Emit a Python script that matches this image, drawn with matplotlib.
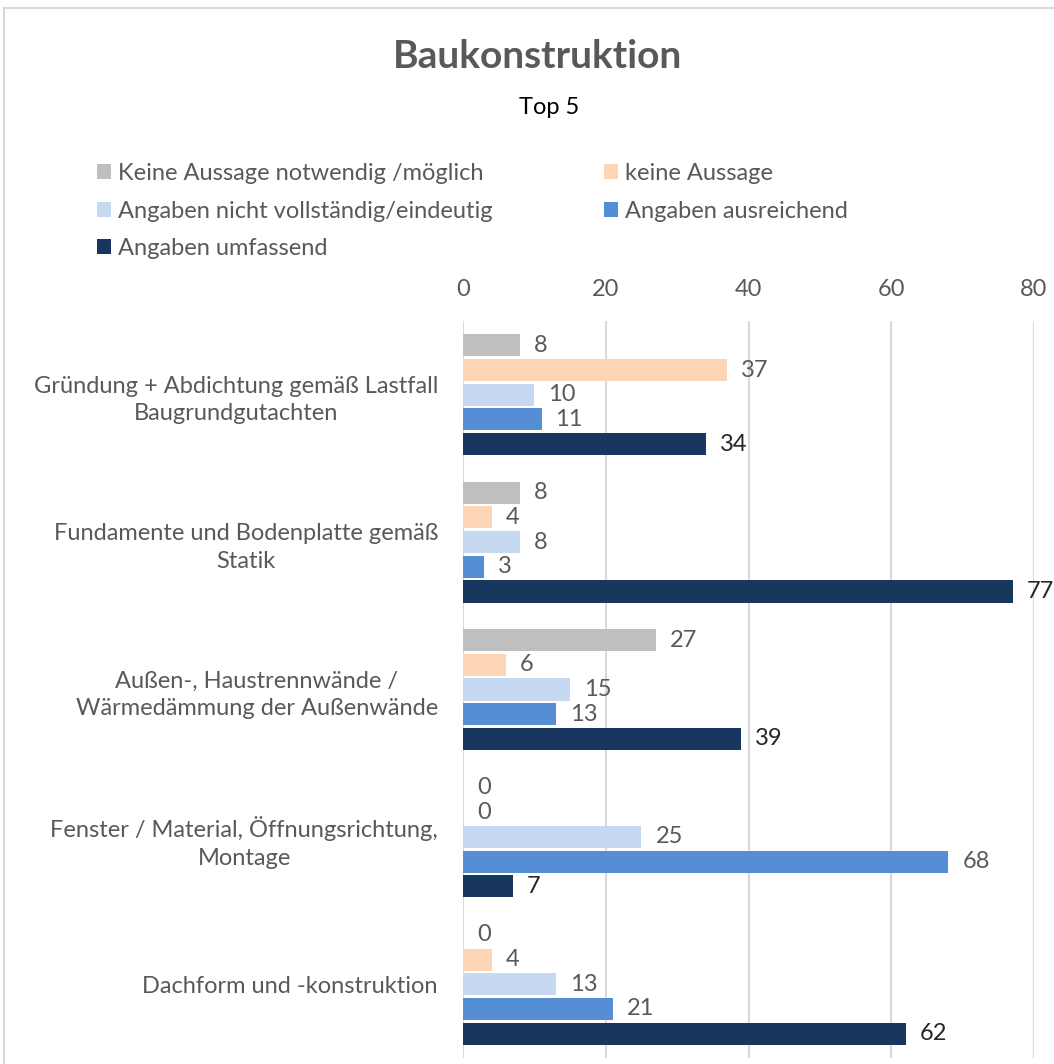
import matplotlib
matplotlib.use("Agg")
import matplotlib.pyplot as plt
from matplotlib.patches import Patch
from matplotlib.lines import Line2D
import numpy as np

plt.rcParams['font.family'] = ['Lato', 'DejaVu Sans']

categories = [
    "Gründung + Abdichtung gemäß Lastfall\nBaugrundgutachten",
    "Fundamente und Bodenplatte gemäß\nStatik",
    "Außen-, Haustrennwände /\nWärmedämmung der Außenwände",
    "Fenster / Material, Öffnungsrichtung,\nMontage",
    "Dachform und -konstruktion",
]
series_names = [
    "Keine Aussage notwendig /möglich",
    "keine Aussage",
    "Angaben nicht vollständig/eindeutig",
    "Angaben ausreichend",
    "Angaben umfassend",
]
keine_notwendig = [8, 8, 27, 0, 0]
keine_aussage = [37, 4, 6, 0, 4]
nicht_vollstaendig = [10, 8, 15, 25, 13]
ausreichend = [11, 3, 13, 68, 21]
umfassend = [34, 77, 39, 7, 62]
series_values = [keine_notwendig, keine_aussage, nicht_vollstaendig, ausreichend, umfassend]
colors = ["#bfbfbf", "#fbd5b5", "#c6d9f1", "#558ed5", "#17375e"]
label_colors = ["#595959", "#595959", "#595959", "#595959", "#262626"]
x_ticks = [0, 20, 40, 60, 80]

W, H = 1054, 1064
fig = plt.figure(figsize=(W / 100, H / 100), dpi=100)

# plot area in pixel coordinates
left, right, top, bottom = 463, 1034, 321, 1058
ax = fig.add_axes([left / W, 1 - bottom / H, (right - left) / W, (bottom - top) / H])

n = len(series_values)
pitch = 0.1675
bar_h = 0.15
y = np.arange(len(categories))
for i, (vals, col, lc) in enumerate(zip(series_values, colors, label_colors)):
    pos = y + (i - (n - 1) / 2) * pitch
    ax.barh(pos, vals, height=bar_h, color=col, linewidth=0, zorder=3)
    for p, v in zip(pos, vals):
        ax.annotate(str(v), xy=(v, p), xytext=(14, 0), textcoords="offset pixels",
                    ha="left", va="center", fontsize=17, color=lc)

ax.set_xlim(0, 80)
ax.set_ylim(len(categories) - 0.5, -0.5)
ax.set_xticks(x_ticks)
ax.xaxis.tick_top()
ax.tick_params(axis="x", length=0, pad=15, labelsize=17, labelcolor="#595959")
ax.set_yticks(y)
ax.set_yticklabels(categories, fontsize=17, color="#595959", linespacing=1.4)
ax.tick_params(axis="y", length=0, pad=18)
for lbl in ax.get_yticklabels():
    lbl.set_horizontalalignment("right")
    lbl.set_multialignment("center")
ax.grid(axis="x", color="#d9d9d9", linewidth=1.5, zorder=0)
for s in ax.spines.values():
    s.set_visible(False)

fig.text(537 / W, 1 - 57 / H, "Baukonstruktion", ha="center", va="center",
         fontsize=28, fontweight="bold", color="#595959")
fig.text(549 / W, 1 - 108 / H, "Top 5", ha="center", va="center",
         fontsize=17, color="#000000")

handles = [Patch(facecolor=c, edgecolor="none") for c in colors]
order = [0, 2, 4, 1, 3]
fig.legend([handles[k] for k in order], [series_names[k] for k in order],
           ncol=2, loc="upper left", bbox_to_anchor=(97 / W, 1 - 163 / H),
           frameon=False, fontsize=17, labelcolor="#595959",
           handlelength=0.6, handleheight=0.6, handletextpad=0.3,
           columnspacing=4.7, labelspacing=0.7, borderaxespad=0, borderpad=0)

# outer chart frame (top and left edges)
fig.add_artist(Line2D([4 / W, 4 / W], [0, 1 - 8 / H], transform=fig.transFigure,
                      color="#d9d9d9", linewidth=1.5))
fig.add_artist(Line2D([4 / W, 1], [1 - 8 / H, 1 - 8 / H], transform=fig.transFigure,
                      color="#d9d9d9", linewidth=1.5))

fig.savefig("out.png", dpi=100)
